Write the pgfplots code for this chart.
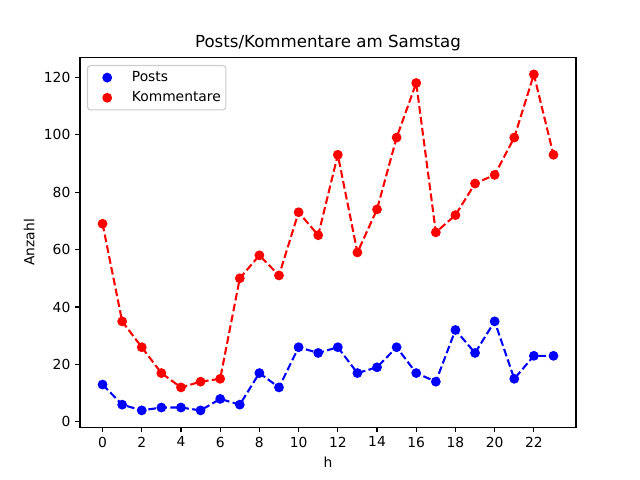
\documentclass[border=0pt]{standalone}
\usepackage{pgfplots}
\pgfplotsset{compat=1.18}
\usepackage{fontspec}
\setmainfont{DejaVu Sans}
\begin{document}
\fontsize{13.9}{16}\selectfont
\begin{tikzpicture}[x=1bp,y=1bp]
\path[use as bounding box] (0,0) rectangle (640,480);
\begin{axis}[
  at={(80bp,52.8bp)}, anchor=south west,
  scale only axis, width=496bp, height=369.6bp,
  xmin=-1.15, xmax=24.15, ymin=-1.85, ymax=126.85,
  xtick={0,2,...,22}, ytick={0,20,...,120},
  tick align=outside, tick pos=left,
  major tick length=4.86bp,
  every tick/.style={line width=1.1bp, black},
  axis line style={line width=1.1bp},
  /pgf/number format/assume math mode=true,
  ticklabel style={font=\fontsize{13.9}{16}\selectfont},
  xlabel={h}, ylabel={Anzahl},
  label style={font=\fontsize{13.9}{16}\selectfont},
  title={Posts/Kommentare am Samstag},
  title style={font=\fontsize{16.7}{19}\selectfont, yshift=-4bp},
  legend style={at={(0.014,0.98)}, anchor=north west, draw=black!20, rounded corners=3bp, line width=1.1bp, font=\fontsize{13.9}{16}\selectfont, row sep=4bp, inner xsep=2bp, inner ysep=4bp, nodes={inner xsep=3bp, inner ysep=2bp}},
  legend cell align=left,
  legend image code/.code={\path (0bp,0bp) (38bp,0bp); \draw[#1] plot coordinates {(17bp,0bp)};},
]
\addplot[blue, line width=2.08bp, dash pattern=on 7.7bp off 3.33bp, mark=*, mark size=4.17bp, mark options={solid, fill=blue, draw=blue, line width=1.39bp}, forget plot] coordinates {
(0,13)(1,6)(2,4)(3,5)(4,5)(5,4)(6,8)(7,6)(8,17)(9,12)(10,26)(11,24)(12,26)(13,17)(14,19)(15,26)(16,17)(17,14)(18,32)(19,24)(20,35)(21,15)(22,23)(23,23)};
\addplot[red, line width=2.08bp, dash pattern=on 7.7bp off 3.33bp, mark=*, mark size=4.17bp, mark options={solid, fill=red, draw=red, line width=1.39bp}, forget plot] coordinates {
(0,69)(1,35)(2,26)(3,17)(4,12)(5,14)(6,15)(7,50)(8,58)(9,51)(10,73)(11,65)(12,93)(13,59)(14,74)(15,99)(16,118)(17,66)(18,72)(19,83)(20,86)(21,99)(22,121)(23,93)};
\addlegendimage{only marks, mark=*, mark size=4.17bp, blue, fill=blue, line width=1.39bp}
\addlegendentry{Posts}
\addlegendimage{only marks, mark=*, mark size=4.17bp, red, fill=red, line width=1.39bp}
\addlegendentry{Kommentare}
\end{axis}
\end{tikzpicture}
\end{document}
